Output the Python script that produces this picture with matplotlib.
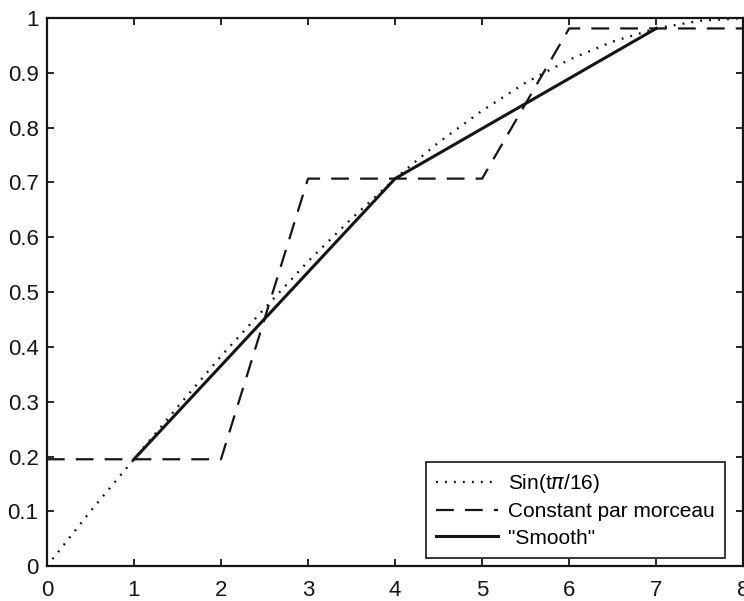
import numpy as np
import matplotlib
matplotlib.use("Agg")
from matplotlib import pyplot as plt

# sin(t*pi/16)
t_sin = [0, 0.5, 1, 1.5, 2, 2.5, 3, 3.5, 4, 4.5, 5, 5.5, 6, 6.5, 7, 7.5, 8]
y_sin = [0.0, 0.10, 0.195, 0.29, 0.383, 0.47, 0.556, 0.634, 0.707, 0.773,
         0.831, 0.882, 0.924, 0.957, 0.981, 0.995, 1.0]

# piecewise constant (dashed)
t_const = [0, 2, 3, 5, 6, 8]
y_const = [0.195, 0.195, 0.707, 0.707, 0.981, 0.981]

# "smooth" (solid)
t_smooth = [1, 4, 7]
y_smooth = [0.195, 0.707, 0.981]

plt.rcParams['font.family'] = ['Liberation Sans', 'DejaVu Sans']

fig = plt.figure(figsize=(7.44, 6.01), dpi=100)
ax = fig.add_axes([0.063, 0.058, 0.936, 0.912])

ink = '#151515'
ax.plot(t_sin, y_sin, color=ink, lw=1.7, linestyle=(0, (0.8, 3.0)),
        label=r'Sin(t$\pi$/16)')
ax.plot(t_const, y_const, color=ink, lw=1.6, linestyle=(0, (8, 5)),
        label='Constant par morceau')
ax.plot(t_smooth, y_smooth, color=ink, lw=2.2, label='"Smooth"')

ax.set_xlim(0, 8)
ax.set_ylim(0, 1)
ax.set_xticks(range(9))
ax.set_yticks(np.arange(0, 1.01, 0.1))
ax.set_yticklabels(['0', '0.1', '0.2', '0.3', '0.4', '0.5', '0.6', '0.7', '0.8', '0.9', '1'])
ax.tick_params(direction='in', top=True, right=True, length=5, width=1.3,
               labelsize=16, colors=ink)
ax.tick_params(axis='x', pad=10)
ax.tick_params(axis='y', pad=6)
for s in ax.spines.values():
    s.set_linewidth(1.6)
    s.set_color(ink)

leg = ax.legend(loc='lower right', bbox_to_anchor=(725 / 744, 1 - 558 / 601),
                bbox_transform=fig.transFigure, borderaxespad=0, fontsize=15,
                handlelength=3.0, handletextpad=0.45, labelspacing=0.35,
                borderpad=0.5, fancybox=False, framealpha=1)
leg.get_frame().set_edgecolor(ink)
leg.get_frame().set_linewidth(1.2)

fig.savefig('out.png', dpi=100)
